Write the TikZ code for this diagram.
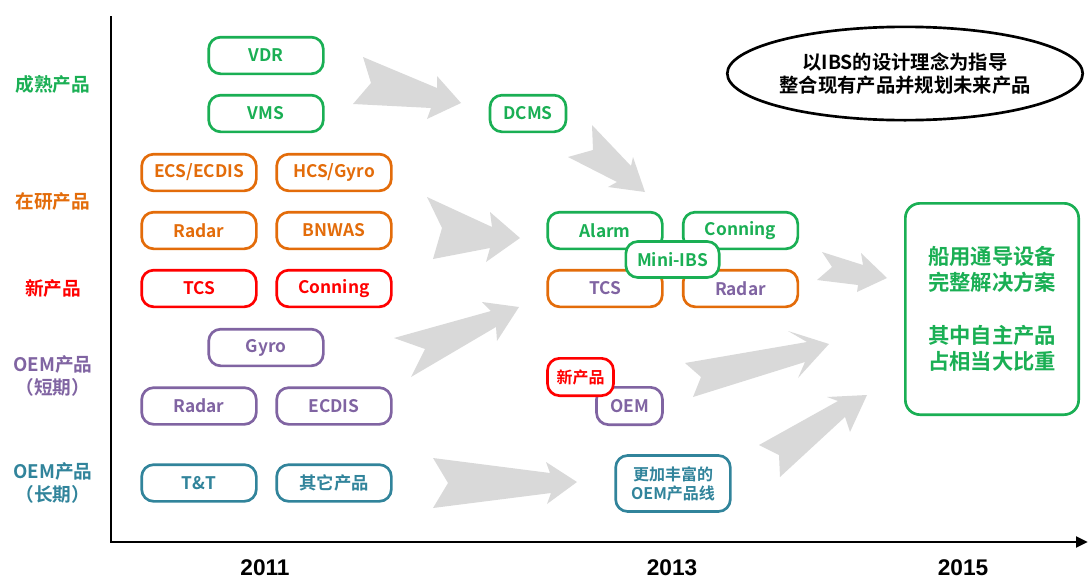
\documentclass[tikz,border=0pt]{standalone}
\usepackage{fontspec}
\setmainfont{Noto Sans CJK SC}[BoldFont=* Bold]
\newfontfamily\arialf{Liberation Sans}
\usetikzlibrary{shapes.geometric,arrows.meta}
\definecolor{cgreen}{HTML}{1AAF54}
\definecolor{corange}{HTML}{E36C0A}
\definecolor{cred}{HTML}{FF0000}
\definecolor{cpurple}{HTML}{8064A2}
\definecolor{cteal}{HTML}{31849B}
\definecolor{cgray}{HTML}{D9D9D9}
\tikzset{
  pbox/.style={draw, line width=2pt, rounded corners=9pt, fill=white,
    minimum width=86pt, minimum height=27.5pt, inner sep=0pt,
    font=\fontsize{13}{15}\selectfont\bfseries, align=center},
  gbox/.style={pbox, draw=cgreen, text=cgreen},
  obox/.style={pbox, draw=corange, text=corange},
  rbox/.style={pbox, draw=cred, text=cred},
  pubox/.style={pbox, draw=cpurple, text=cpurple},
  tbox/.style={pbox, draw=cteal, text=cteal},
  rowlab/.style={font=\fontsize{14}{17.25}\selectfont\bfseries, align=center},
  yearlab/.style={font=\arialf\fontsize{17}{20}\selectfont\bfseries, inner sep=0pt},
  garrow/.style={fill=cgray, draw=none},
}
\begin{document}
\begin{tikzpicture}[x=0.75pt,y=-0.75pt]
\useasboundingbox (0,0) rectangle (1089,579);

% gray block arrows
\fill[garrow] (363,57) -- (437,88) -- (437,76) -- (461,103) -- (427,119) -- (431,108) -- (353,104) -- (371,83) -- cycle;
\fill[garrow] (592,125) -- (631,166) -- (633,157) -- (645,192) -- (608,187) -- (617,182) -- (568,157) -- (593,150) -- cycle;
\fill[garrow] (427,197) -- (492,227) -- (490,212) -- (520,238) -- (486,262) -- (490,248) -- (433,259) -- (442,228) -- cycle;
\fill[garrow] (394,338) -- (491,311) -- (482,302) -- (519,307) -- (497,341) -- (496,327) -- (411,377) -- (425,349) -- cycle;
\fill[garrow] (433,458) -- (550,473) -- (546,462) -- (577,482) -- (547,504) -- (551,493) -- (433,508) -- (448,483) -- cycle;
\fill[garrow] (822,252) -- (863,265) -- (861,253) -- (887,278) -- (857,292) -- (858,285) -- (817,280) -- (832,267) -- cycle;
\fill[garrow] (685,363) -- (807,342) -- (788,331) -- (829,344) -- (798,378) -- (805,362) -- (693,397) -- (701,377) -- cycle;
\fill[garrow] (759,445) -- (838,401) -- (827,397) -- (867,395) -- (850,432) -- (845,417) -- (780,477) -- (779,455) -- cycle;

% axes
\coordinate (ytop) at (111,16);
\coordinate (origin) at (111,542);
\coordinate (xend) at (1088,542);
\draw[line width=2.2pt, -{Triangle[length=9pt,width=8pt]}] (ytop) -- (origin) -- (xend);

% row labels
\node[rowlab, text=cgreen] (lab1) at (53,84) {成熟产品};
\node[rowlab, text=corange] (lab2) at (53,201) {在研产品};
\node[rowlab, text=cred] (lab3) at (53,288) {新产品};
\node[rowlab, text=cpurple] (lab4) at (53,375.5) {OEM产品\\（短期）};
\node[rowlab, text=cteal] (lab5) at (53,483) {OEM产品\\（长期）};

% year labels
\node[yearlab] (y2011) at (265,567.5) {2011};
\node[yearlab] (y2013) at (672,567.5) {2013};
\node[yearlab] (y2015) at (963,567.5) {2015};

% 2011 column
\node[gbox] (vdr) at (266,55.5) {VDR};
\node[gbox] (vms) at (266,113.5) {VMS};
\node[obox] (ecs) at (199,172.5) {ECS/ECDIS};
\node[obox] (hcs) at (334,172.5) {HCS/Gyro};
\node[obox] (radar1) at (199,230.5) {Radar};
\node[obox] (bnwas) at (334,230.5) {BNWAS};
\node[rbox] (tcs1) at (199,288.5) {TCS};
\node[rbox] (conn1) at (334,288.5) {Conning};
\node[pubox] (gyro) at (266,347.5) {Gyro};
\node[pubox] (radar2) at (199,406) {Radar};
\node[pubox] (ecdis) at (334,406) {ECDIS};
\node[tbox] (tt) at (199,483) {T\&T};
\node[tbox] (other) at (334,483) {其它产品};

% 2013 column
\node[gbox, minimum width=57pt] (dcms) at (528,113.5) {DCMS};
\node[gbox] (alarm) at (605,230.5) {Alarm};
\node[gbox] (conn2) at (740.5,230.5) {Conning};
\node[obox, text=cpurple] (tcs2) at (605,288.5) {TCS};
\node[obox, text=cpurple] (radar3) at (740.5,288.5) {Radar};
\node[gbox, minimum width=70pt, minimum height=27pt] (mini) at (672.5,259.5) {Mini-IBS};
\node[pubox, minimum width=49.5pt, minimum height=28pt] (oem) at (629.5,406) {OEM};
\node[rbox, minimum width=49.5pt, minimum height=28pt, font=\fontsize{12}{14}\selectfont\bfseries] (newp) at (580.5,377) {新产品};
\node[tbox, minimum width=86pt, minimum height=42pt, font=\fontsize{12}{14.25}\selectfont\bfseries] (rich) at (673,483.5) {更加丰富的\\OEM产品线};

% 2015
\node[gbox, minimum width=130pt, minimum height=158.5pt, rounded corners=11pt,
  font=\fontsize{16}{19.5}\selectfont\bfseries] (sol) at (992,309)
  {船用通导设备\\完整解决方案\\[20pt]其中自主产品\\占相当大比重};

\node[draw, ellipse, line width=2pt, minimum width=260pt, minimum height=70pt,
  inner sep=0pt, align=center, font=\fontsize{14.5}{17}\selectfont\bfseries] (ell) at (905,73.5)
  {以IBS的设计理念为指导\\整合现有产品并规划未来产品};
\end{tikzpicture}
\end{document}
